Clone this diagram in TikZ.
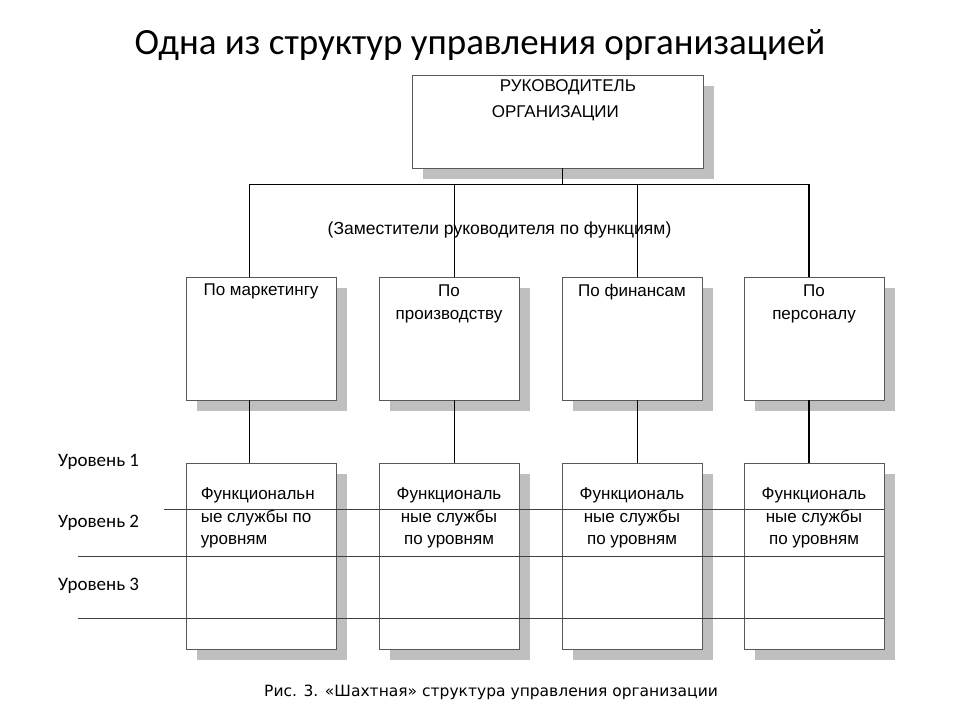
\documentclass[tikz,border=0pt]{standalone}
\usepackage{fontspec}
\setmainfont{Liberation Sans}
\newfontfamily\calibrifont{Carlito}
\newfontfamily\captionfont{DejaVu Sans}
\usetikzlibrary{shadows}

\begin{document}
\begin{tikzpicture}[x=1pt, y=-1pt,
	box/.style={draw=black!65, fill=white, line width=0.8pt, inner sep=0pt,
		drop shadow={shadow xshift=11pt, shadow yshift=-11pt, fill=black!25, opacity=1}},
	boxtext/.style={font=\fontsize{17}{22.5}\selectfont, align=center, inner sep=0pt},
	link/.style={draw=black, line width=0.9pt},
	boldlink/.style={draw=black, line width=1.8pt},
	levelline/.style={draw=black!75, line width=0.7pt},
	leveltext/.style={font=\calibrifont\fontsize{19}{22}\selectfont, anchor=base west, inner sep=0pt}]
	%%%%% START %%%%%
	\useasboundingbox (0,0) rectangle (960,720);
	
	\node[font=\calibrifont\fontsize{37}{44}\selectfont, anchor=base, inner sep=0pt] (title) at (480,54) {Одна из структур управления организацией};
	
	% head of organisation
	\node[box, minimum width=291pt, minimum height=93pt] (head) at (557.5,121.5) {};
	\node[boxtext, anchor=north west] (head1) at ([xshift=88pt, yshift=-5pt]head.north west) {РУКОВОДИТЕЛЬ};
	\node[boxtext, anchor=north west] (head2) at ([xshift=80pt, yshift=-31pt]head.north west) {ОРГАНИЗАЦИИ};
	
	\node[boxtext, font=\fontsize{17.5}{22}\selectfont, anchor=base] (deputies) at (499.5,234) {(Заместители руководителя по функциям)};
	
	% deputies and their services
	\foreach \i/\x/\w in {1/261/150, 2/449/140, 3/632/140, 4/814/140} {
		\node[box, minimum width=\w pt, minimum height=123pt] (dep\i) at (\x,338.5) {};
		\node[box, minimum width=\w pt, minimum height=186pt] (srv\i) at (\x,556) {};
	}
	
	\node[boxtext, anchor=north] (dep1t) at ([yshift=-7pt]dep1.north) {По маркетингу};
	\node[boxtext, anchor=north] (dep2t) at ([yshift=-8pt]dep2.north) {По\\производству};
	\node[boxtext, anchor=north] (dep3t) at ([yshift=-7pt]dep3.north) {По финансам};
	\node[boxtext, anchor=north] (dep4t) at ([yshift=-8pt]dep4.north) {По\\персоналу};
	
	\node[boxtext, align=left, anchor=north west] (srv1t) at ([xshift=15pt, yshift=-25pt]srv1.north west) {Функциональн\\ые службы по\\уровням};
	\foreach \i in {2,3,4}
		\node[boxtext, anchor=north] (srv\i t) at ([yshift=-25pt]srv\i.north) {Функциональ\\ные службы\\по уровням};
	
	% connectors
	\coordinate (hub) at (562,184);
	\coordinate (b1) at (249,184);
	\coordinate (b2) at (454,184);
	\coordinate (b3) at (637,184);
	\coordinate (b4) at (809,184);
	
	\draw[link] (hub |- head.south) -- (hub);
	\draw[link] (b1) -- (b4);
	\foreach \i in {1,2,3} {
		\draw[link] (b\i) -- (b\i |- dep\i.north);
		\draw[link] (b\i |- dep\i.south) -- (b\i |- srv\i.north);
	}
	\draw[boldlink] (b4) -- (b4 |- dep4.north);
	\draw[boldlink] (b4 |- dep4.south) -- (b4 |- srv4.north);
	
	% levels
	\draw[levelline] (164,509) -- (884,509);
	\draw[levelline] (78,556) -- (884,556);
	\draw[levelline] (78,618) -- (884,618);
	
	\node[leveltext] (lev1) at (58,466) {Уровень 1};
	\node[leveltext] (lev2) at (58,527) {Уровень 2};
	\node[leveltext] (lev3) at (58,590) {Уровень 3};
	
	\node[font=\captionfont\fontsize{15.5}{18}\selectfont, anchor=base, inner sep=0pt] (caption) at (491,696) {Рис. 3. «Шахтная» структура управления организации};
	%%%%% END %%%%%
\end{tikzpicture}
\end{document}
